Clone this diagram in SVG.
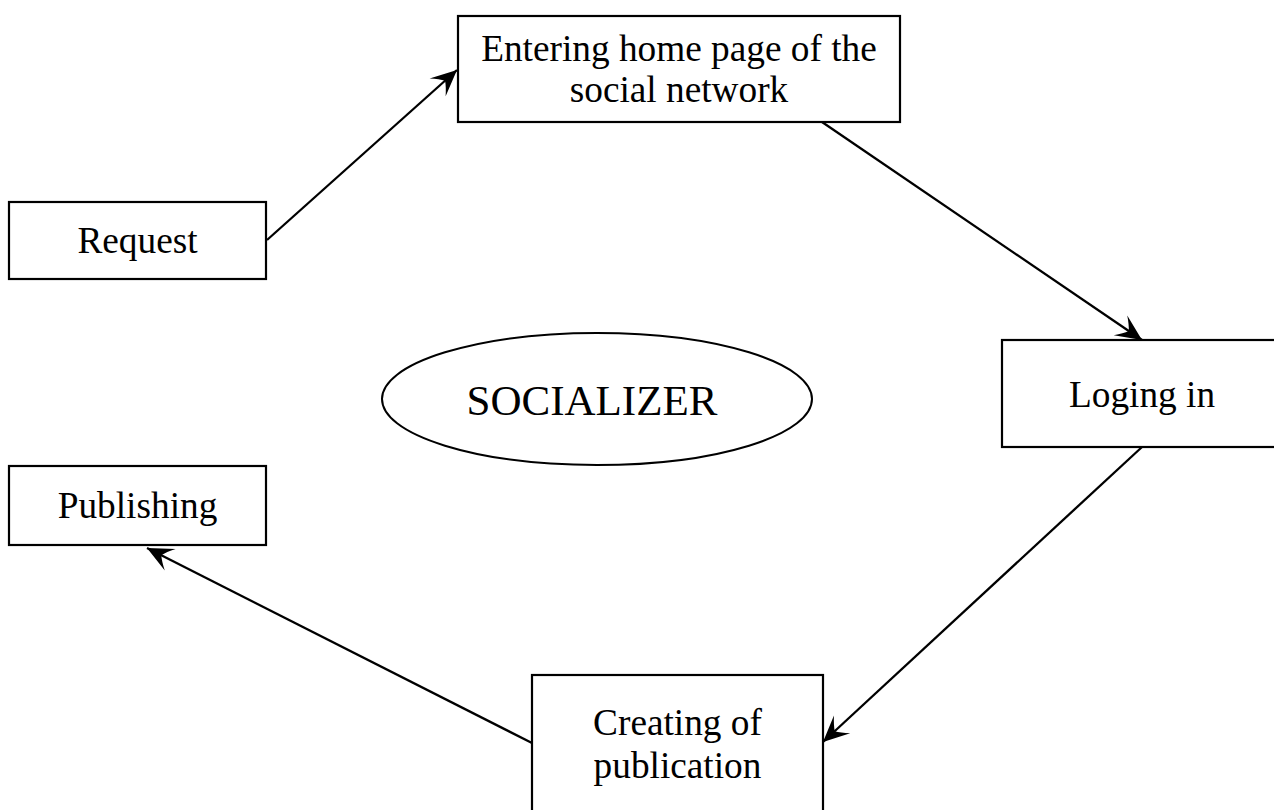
<svg xmlns="http://www.w3.org/2000/svg" width="1274" height="810" viewBox="0 0 1274 810">
<style>
.box{fill:#fff;stroke:#000;stroke-width:2.2}
.lbl{font-family:"Liberation Serif","Times New Roman",serif;font-size:37.3px;fill:#000;text-anchor:middle}
.big{font-size:43px}
.conn{stroke:#000;stroke-width:2.3;fill:none;marker-end:url(#ah)}
</style>
<defs>
<marker id="ah" markerUnits="userSpaceOnUse" viewBox="-27 -14 28 28" markerWidth="28" markerHeight="28" refX="0" refY="0" orient="auto">
<path d="M0,0 L-26,-12 Q-19,-5 -16,0 Q-19,5 -26,12 Z" fill="#000"/>
</marker>
</defs>
<rect width="1274" height="810" fill="#fff"/>
<g id="connectors">
<line class="conn" x1="267" y1="240" x2="457" y2="70"/>
<line class="conn" x1="822" y1="122" x2="1142" y2="340"/>
<line class="conn" x1="1142" y1="447" x2="823" y2="742"/>
<line class="conn" x1="532" y1="743" x2="147" y2="548"/>
</g>
<g id="entering">
<rect class="box" x="458" y="16" width="442" height="106"/>
<text class="lbl" x="679" y="61">Entering home page of the</text>
<text class="lbl" x="679" y="102">social network</text>
</g>
<g id="request">
<rect class="box" x="9" y="202" width="257" height="77"/>
<text class="lbl" x="137.5" y="253">Request</text>
</g>
<g id="loging">
<rect class="box" x="1002" y="340" width="280" height="107"/>
<text class="lbl" x="1142" y="407">Loging in</text>
</g>
<g id="socializer">
<ellipse cx="597" cy="399" rx="215" ry="66" fill="#fff" stroke="#000" stroke-width="2"/>
<text class="lbl big" x="592" y="415">SOCIALIZER</text>
</g>
<g id="publishing">
<rect class="box" x="9" y="466" width="257" height="79"/>
<text class="lbl" x="137.5" y="518">Publishing</text>
</g>
<g id="creating">
<rect class="box" x="532" y="675" width="291" height="150"/>
<text class="lbl" x="677.5" y="735">Creating of</text>
<text class="lbl" x="677.5" y="778">publication</text>
</g>
</svg>
